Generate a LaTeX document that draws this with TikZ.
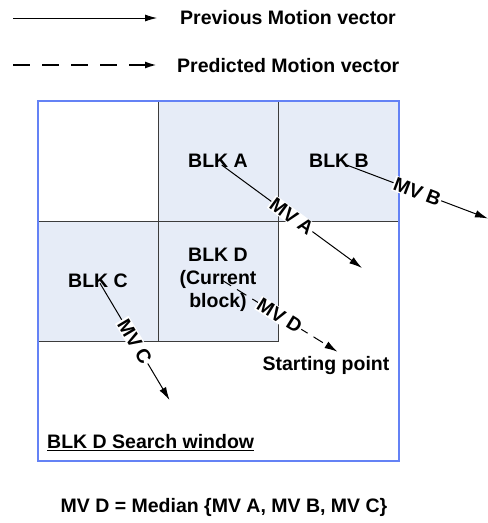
\documentclass[tikz,border=0pt]{standalone}
\usepackage{fontspec}
\setmainfont{Liberation Sans}
\usetikzlibrary{arrows.meta}
\definecolor{blkfill}{RGB}{230,236,247}
\definecolor{winblue}{RGB}{100,130,245}
\definecolor{blkedge}{RGB}{60,60,60}
\begin{document}
\begin{tikzpicture}[x=1pt,y=-1pt,
  txt/.style={font=\fontsize{19.5}{23}\selectfont\bfseries, inner sep=0pt},
  blk/.style={draw=blkedge, fill=blkfill, line width=0.9pt},
  mvarrow/.style={line width=1pt, -{Latex[length=13pt,width=7.5pt]}},
  mvlabel/.style={txt, fill=white, inner sep=1pt, sloped, midway}]
\useasboundingbox (0,0) rectangle (488,523);

% legend
\coordinate (l1a) at (13,18);
\coordinate (l1b) at (157,18);
\coordinate (l2a) at (13,65);
\coordinate (l2b) at (157,65);
\draw[line width=0.8pt, -{Latex[length=12pt,width=7pt]}] (l1a) -- (l1b);
\draw[line width=2pt, dash pattern=on 17pt off 12pt, -{Latex[length=12pt,width=7pt]}] (l2a) -- (l2b);
\node[txt, anchor=west] (leg1) at (180,18) {Previous Motion vector};
\node[txt, anchor=west] (leg2) at (177,66) {Predicted Motion vector};

% blocks
\draw[blk] (158,101) rectangle (278,221);
\draw[blk] (278,101) rectangle (399,221);
\draw[blk] (38,221) rectangle (158,341);
\draw[blk] (158,221) rectangle (278,341);
\draw[blkedge, line width=0.9pt] (38,221) -- (158,221) -- (158,101);
% search window
\draw[winblue, line width=1.1pt] (38,101) rectangle (399,461);

\node[txt] (blka) at (218,161) {BLK A};
\node[txt] (blkb) at (339,161) {BLK B};
\node[txt] (blkc) at (98,281) {BLK C};
\node[txt, align=center, font=\fontsize{19.5}{23}\selectfont\bfseries] (blkd) at (218,280) {BLK D\\(Current\\block)};

% motion vectors
\coordinate (sa) at (221.7,165);
\coordinate (ea) at (362,268);
\coordinate (sb) at (346.7,165);
\coordinate (eb) at (488,218.5);
\coordinate (sc) at (100,283.3);
\coordinate (ec) at (169.5,400);
\coordinate (sd) at (221.7,280);
\coordinate (ed) at (337.5,351.7);
\draw[mvarrow] (sa) -- node[mvlabel] {MV A} (ea);
\draw[mvarrow] (sb) -- node[mvlabel] {MV B} (eb);
\draw[mvarrow] (sc) -- node[mvlabel] {MV C} (ec);
\draw[mvarrow, dash pattern=on 11pt off 7pt] (sd) -- node[mvlabel] {MV D} (ed);

\node[txt] (start) at (326,365) {Starting point};
\node[txt, anchor=west] (win) at (47,443) {\underline{BLK D Search window}};
\node[txt] (median) at (224,507) {MV D = Median \{MV A, MV B, MV C\}};
\end{tikzpicture}
\end{document}
